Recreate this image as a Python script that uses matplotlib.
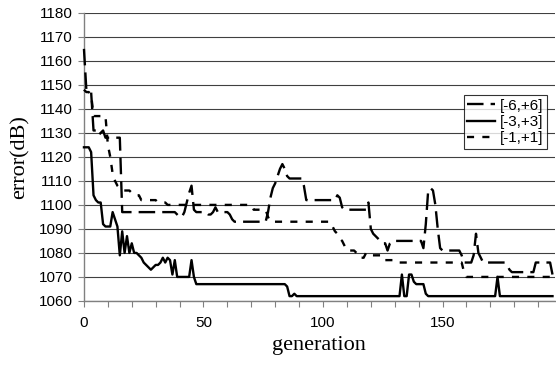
import numpy as np
import matplotlib
matplotlib.use("Agg")
import matplotlib.pyplot as plt

# error per generation (generation 0..196)
err_6 = [1165, 1148, 1147, 1147, 1131, 1131, 1129, 1130, 1131, 1128, 1128, 1128, 1128, 1128, 1128, 1128, 1097, 1097, 1097, 1097,
         1097, 1097, 1097, 1097, 1097, 1097, 1097, 1097, 1097, 1097, 1097, 1097, 1097, 1097, 1097, 1097, 1097, 1097, 1097, 1096,
         1095, 1095, 1097, 1101, 1105, 1108, 1098, 1097, 1097, 1097, 1097, 1097, 1096, 1096, 1097, 1099, 1097, 1097, 1097, 1097,
         1097, 1096, 1094, 1093, 1093, 1093, 1093, 1093, 1093, 1093, 1093, 1093, 1093, 1093, 1093, 1093, 1093, 1097, 1103, 1107,
         1109, 1112, 1115, 1117, 1115, 1112, 1111, 1111, 1111, 1111, 1111, 1111, 1108, 1102, 1102, 1102, 1102, 1102, 1102, 1102,
         1102, 1102, 1102, 1102, 1102, 1102, 1104, 1103, 1099, 1098, 1098, 1098, 1098, 1098, 1098, 1098, 1098, 1098, 1098, 1101,
         1090, 1088, 1087, 1086, 1085, 1084, 1084, 1081, 1084, 1085, 1085, 1085, 1085, 1085, 1085, 1085, 1085, 1085, 1085, 1085,
         1085, 1085, 1082, 1092, 1106, 1107, 1106, 1100, 1090, 1082, 1081, 1081, 1081, 1081, 1081, 1081, 1081, 1081, 1079, 1076,
         1076, 1076, 1076, 1079, 1088, 1080, 1078, 1076, 1076, 1076, 1076, 1076, 1076, 1076, 1076, 1076, 1076, 1075, 1073, 1072,
         1072, 1072, 1072, 1072, 1072, 1072, 1072, 1072, 1072, 1076, 1076, 1076, 1076, 1076, 1076, 1076, 1071]

err_3 = [1124, 1124, 1124, 1122, 1104, 1102, 1101, 1101, 1092, 1091, 1091, 1091, 1097, 1094, 1091, 1079, 1089, 1080, 1087, 1080,
         1084, 1080, 1080, 1079, 1078, 1076, 1075, 1074, 1073, 1074, 1075, 1075, 1076, 1078, 1076, 1078, 1077, 1071, 1077, 1070,
         1070, 1070, 1070, 1070, 1070, 1077, 1070, 1067, 1067, 1067, 1067, 1067, 1067, 1067, 1067, 1067, 1067, 1067, 1067, 1067,
         1067, 1067, 1067, 1067, 1067, 1067, 1067, 1067, 1067, 1067, 1067, 1067, 1067, 1067, 1067, 1067, 1067, 1067, 1067, 1067,
         1067, 1067, 1067, 1067, 1067, 1066, 1062, 1062, 1063, 1062, 1062, 1062, 1062, 1062, 1062, 1062, 1062, 1062, 1062, 1062,
         1062, 1062, 1062, 1062, 1062, 1062, 1062, 1062, 1062, 1062, 1062, 1062, 1062, 1062, 1062, 1062, 1062, 1062, 1062, 1062,
         1062, 1062, 1062, 1062, 1062, 1062, 1062, 1062, 1062, 1062, 1062, 1062, 1062, 1071, 1062, 1062, 1071, 1071, 1068, 1067,
         1067, 1067, 1067, 1063, 1062, 1062, 1062, 1062, 1062, 1062, 1062, 1062, 1062, 1062, 1062, 1062, 1062, 1062, 1062, 1062,
         1062, 1062, 1062, 1062, 1062, 1062, 1062, 1062, 1062, 1062, 1062, 1062, 1062, 1070, 1062, 1062, 1062, 1062, 1062, 1062,
         1062, 1062, 1062, 1062, 1062, 1062, 1062, 1062, 1062, 1062, 1062, 1062, 1062, 1062, 1062, 1062, 1062]

err_1 = [1148, 1147, 1147, 1146, 1137, 1137, 1137, 1137, 1137, 1137, 1125, 1120, 1113, 1110, 1108, 1107, 1106, 1106, 1106, 1106,
         1105, 1104, 1104, 1104, 1102, 1102, 1102, 1102, 1102, 1102, 1102, 1101, 1101, 1101, 1101, 1100, 1100, 1100, 1100, 1100,
         1100, 1100, 1100, 1100, 1100, 1100, 1100, 1100, 1100, 1100, 1100, 1100, 1100, 1100, 1100, 1100, 1100, 1100, 1100, 1100,
         1100, 1100, 1100, 1100, 1100, 1100, 1100, 1100, 1100, 1100, 1100, 1098, 1098, 1098, 1098, 1098, 1098, 1095, 1093, 1093,
         1093, 1093, 1093, 1093, 1093, 1093, 1093, 1093, 1093, 1093, 1093, 1093, 1093, 1093, 1093, 1093, 1093, 1093, 1093, 1093,
         1093, 1093, 1093, 1093, 1091, 1089, 1088, 1086, 1085, 1083, 1081, 1081, 1081, 1081, 1080, 1078, 1078, 1078, 1080, 1080,
         1079, 1079, 1079, 1079, 1079, 1079, 1077, 1077, 1077, 1077, 1077, 1077, 1076, 1076, 1076, 1076, 1076, 1076, 1076, 1076,
         1076, 1076, 1076, 1076, 1076, 1076, 1076, 1076, 1076, 1076, 1076, 1076, 1076, 1076, 1076, 1076, 1076, 1076, 1076, 1072,
         1070, 1070, 1070, 1070, 1070, 1070, 1070, 1070, 1070, 1070, 1070, 1070, 1070, 1070, 1070, 1070, 1070, 1070, 1070, 1070,
         1070, 1070, 1070, 1070, 1070, 1070, 1070, 1070, 1070, 1070, 1070, 1070, 1070, 1070, 1070, 1070, 1070]

labels = ['[-6,+6]', '[-3,+3]', '[-1,+1]']
xticklabels = ['0', '50', '100', '150']

gen = np.arange(len(err_6))

fig = plt.figure(figsize=(5.56, 3.67), dpi=100)
ax = fig.add_axes([0.151, 0.18, 0.847, 0.785])

lw = 1.7
ax.plot(gen, err_6, color='black', lw=lw, linestyle=(0, (7, 3)), label=labels[0], zorder=3, clip_on=False)
ax.plot(gen, err_3, color='black', lw=lw, linestyle='-', label=labels[1], zorder=3, clip_on=False)
ax.plot(gen, err_1, color='black', lw=lw, linestyle=(0, (3, 3.5)), label=labels[2], zorder=3, clip_on=False)

ax.set_xlim(0, 197)
ax.set_ylim(1060, 1180)
ax.set_yticks(np.arange(1060, 1181, 10))
ax.set_xticks(np.arange(0, 191, 10))
ax.set_xticklabels([xticklabels[k // 5] if k % 5 == 0 else '' for k in range(20)])

ax.yaxis.grid(True, color='#404040', lw=0.8)
ax.set_axisbelow(True)
for s in ['top', 'right']:
    ax.spines[s].set_visible(False)
for s in ['left', 'bottom']:
    ax.spines[s].set_color('#808080')
    ax.spines[s].set_linewidth(1.0)

ax.tick_params(axis='both', direction='out', length=4, width=0.8, color='#808080')
ax.tick_params(axis='x', pad=7)
ax.tick_params(axis='y', pad=4)
for t in ax.get_xticklabels() + ax.get_yticklabels():
    t.set_fontfamily('Liberation Sans')
    t.set_fontsize(11)

ax.set_xlabel('generation', fontfamily='Liberation Serif', fontsize=16)
ax.set_ylabel('error(dB)', fontfamily='Liberation Serif', fontsize=16)
ax.xaxis.set_label_coords(0.5, -0.153)
ax.yaxis.set_label_coords(-0.136, 0.5)
ax.xaxis.label.set_va('center')
ax.yaxis.label.set_va('center')

leg = ax.legend(loc='upper right', bbox_to_anchor=(0.983, 0.715), borderaxespad=0,
                prop={'family': 'Liberation Sans', 'size': 11}, frameon=True, fancybox=False,
                handlelength=1.8, handletextpad=0.3, labelspacing=0.15, borderpad=0.25)
leg.get_frame().set_edgecolor('black')
leg.get_frame().set_linewidth(0.8)
leg.set_zorder(5)

fig.savefig('out.png', dpi=100)
